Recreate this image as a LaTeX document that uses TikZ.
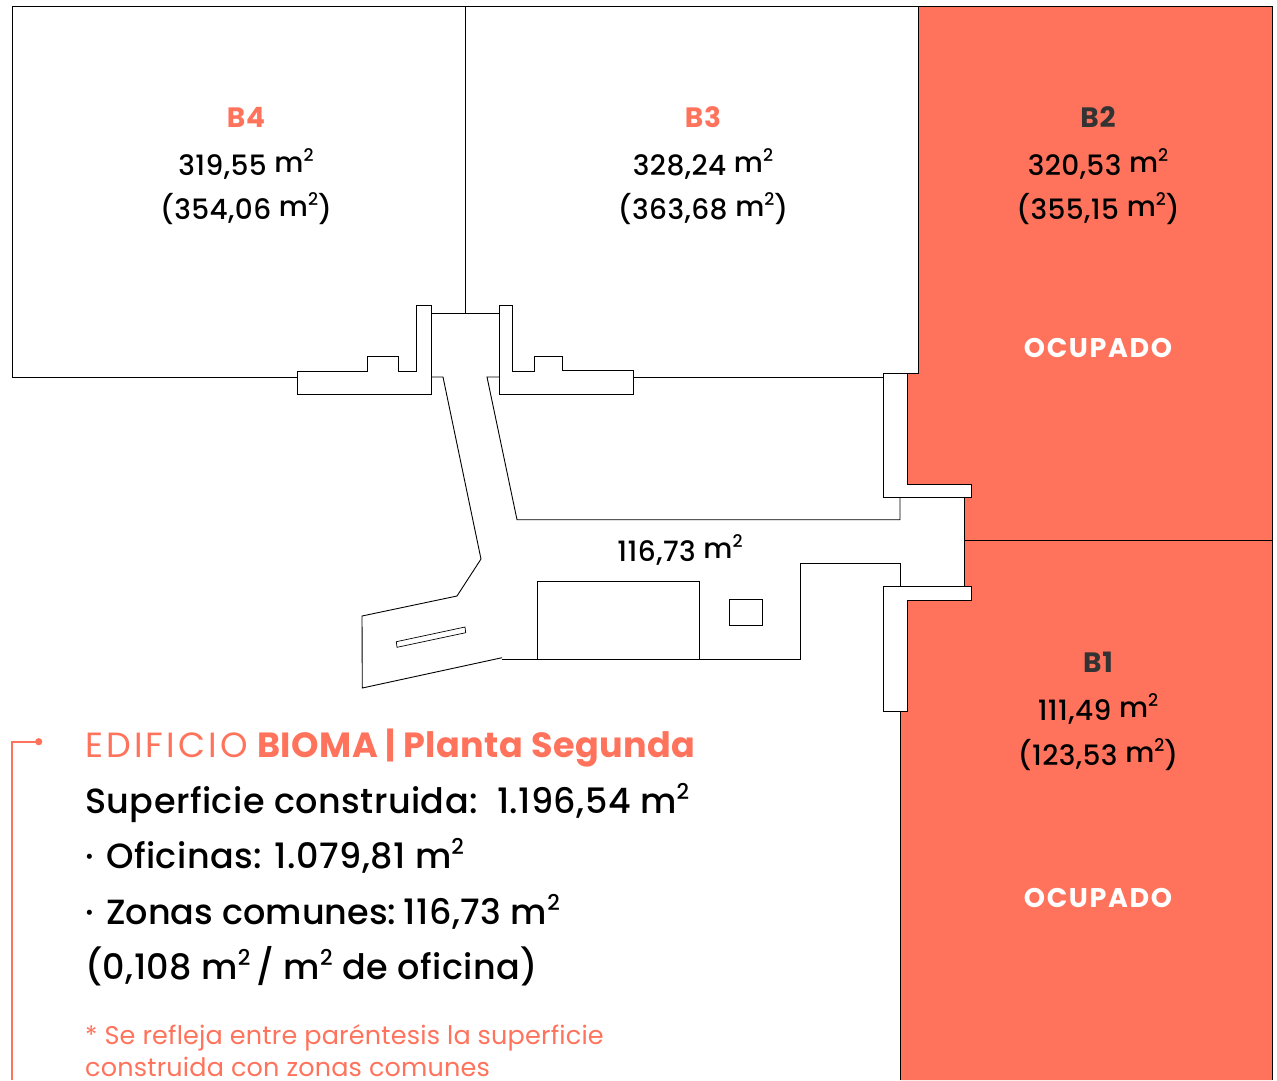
\documentclass[tikz,border=0pt]{standalone}
\usepackage{fontspec}
\setmainfont{Poppins}
\newfontfamily\medfont{Poppins Medium}
\usetikzlibrary{positioning}
\definecolor{coral}{HTML}{FF735C}
\definecolor{darkname}{HTML}{333333}
\newcommand{\sqtwo}{\raisebox{0.4em}{\scalebox{0.62}{2}}}
\newcommand{\sqm}{\raisebox{2.5pt}{m\sqtwo}}
\tikzset{
    wall/.style={black, line width=0.9pt, line join=miter},
    areatext/.style={anchor=base, font=\medfont\addfontfeature{LetterSpace=1.5}\fontsize{28}{30}\selectfont, inner sep=0pt},
    unitname/.style={anchor=base, font=\addfontfeature{LetterSpace=3}\bfseries\fontsize{28}{30}\selectfont, inner sep=0pt},
    freetext/.style={anchor=base, text=white, font=\addfontfeature{LetterSpace=6}\bfseries\fontsize{27}{30}\selectfont, inner sep=0pt},
    infotext/.style={anchor=base west, font=\medfont\addfontfeature{LetterSpace=1.3}\fontsize{35}{40}\selectfont, inner sep=0pt},
    notetext/.style={anchor=base west, text=coral, font=\addfontfeature{LetterSpace=0.7}\fontsize{25.5}{30}\selectfont, inner sep=0pt}
}
\begin{document}
\begin{tikzpicture}[x=1pt,y=-1pt]
    \useasboundingbox (0,0) rectangle (1277,1080);

    % Occupied units
    \fill[coral] (918.5,6) -- (1272,6) -- (1272,1080) -- (900,1080) -- (900,711) -- (907.7,711)
        -- (907.7,600.7) -- (971,600.7) -- (971,586.5) -- (964.5,586.5) -- (964.5,497.7) -- (971,497.7)
        -- (971,484) -- (907.7,484) -- (907.7,373.3) -- (918.5,373.3) -- cycle;

    % Outer walls
    \draw[wall] (297,377) -- (12,377) -- (12,6) -- (1272,6) -- (1272,1080);
    \draw[wall] (465,6) -- (465,313);
    \draw[wall] (918.5,6) -- (918.5,373.3);
    \draw[wall] (633.3,377) -- (883,377);
    \draw[wall] (964.5,540) -- (1272,540);
    \draw[wall] (964.5,497.7) -- (964.5,586.5);
    \draw[wall] (900,711) -- (900,1080);

    % Left bracket
    \draw[wall] (431,394.7) -- (297,394.7) -- (297,371) -- (367.7,371) -- (367.7,356.7) -- (398,356.7)
        -- (398,371) -- (416.7,371) -- (416.7,305.7) -- (431,305.7) -- cycle;

    % Right bracket
    \draw[wall] (499.3,394.3) -- (633.3,394.3) -- (633.3,370) -- (562.7,370) -- (562.7,356.7) -- (534.7,356.7)
        -- (534.7,371) -- (512.3,371) -- (512.3,305.7) -- (499.3,305.7) -- cycle;
    \draw[wall] (431,313) -- (499.3,313);

    % Upper stair block
    \draw[wall] (918.5,373.3) -- (883,373.3) -- (883,497.7) -- (971,497.7) -- (971,484)
        -- (907.7,484) -- (907.7,373.3);

    % Lower stair block
    \draw[wall] (971,586.5) -- (883,586.5) -- (883,711) -- (907.7,711) -- (907.7,600.7) -- (971,600.7) -- cycle;

    % Corridor
    \draw[wall] (499.3,377) -- (487,377) -- (517,519.7) -- (900,519.7) -- (900,497.7);
    \draw[wall] (900,586.5) -- (900,563.5) -- (800,563.5) -- (800,659) -- (502,659);
    \draw[wall] (502,657.7) -- (362.3,688) -- (362,616) -- (457,596) -- (481,559) -- (443,377) -- (431,377);

    % Core
    \draw[wall] (537.7,581) rectangle (699.5,659);
    \draw[wall] (729.5,599.5) rectangle (762,625);
    \draw[wall, line width=0.7pt] (396.3,641.7) -- (465,627) -- (465.7,632.7) -- (397,647.3) -- cycle;

    % Units
    \node[unitname, text=coral] (nameB4) at (246,127) {B4};
    \node[areatext] (areaB4) at (246,175) {319,55 \sqm};
    \node[areatext] (grossB4) at (246,219) {(354,06 \sqm)};

    \node[unitname, text=coral] (nameB3) at (703,127) {B3};
    \node[areatext] (areaB3) at (703,175) {328,24 \sqm};
    \node[areatext] (grossB3) at (703,219) {(363,68 \sqm)};

    \node[unitname, text=darkname] (nameB2) at (1098,127) {B2};
    \node[areatext] (areaB2) at (1098,175) {320,53 \sqm};
    \node[areatext] (grossB2) at (1098,219) {(355,15 \sqm)};
    \node[freetext] (freeB2) at (1098,357) {OCUPADO};

    \node[unitname, text=darkname] (nameB1) at (1098,672) {B1};
    \node[areatext] (areaB1) at (1098,720) {111,49 \sqm};
    \node[areatext] (grossB1) at (1098,765) {(123,53 \sqm)};
    \node[freetext] (freeB1) at (1098,907) {OCUPADO};

    \node[areatext] (areaCommon) at (680,561) {116,73 \sqm};

    % Summary
    \draw[coral, line width=1.7pt] (38.7,741.7) -- (12,741.7) -- (12,1080);
    \fill[coral] (38.7,741.7) circle (3.6);
    \node[infotext, text=coral, font=\fontsize{35}{40}\selectfont] (title) at (85,757)
        {{\addfontfeature{LetterSpace=9}EDIFICIO} {\addfontfeature{LetterSpace=1.2}\bfseries BIOMA | Planta Segunda}};
    \node[infotext] (built) at (85,813) {Superficie construida:\ \ 1.196,54 m\sqtwo};
    \node[infotext] (offices) at (85,868) {·\kern3pt\ Oficinas: 1.079,81 m\sqtwo};
    \node[infotext] (common) at (85,924) {·\kern3pt\ {\addfontfeature{LetterSpace=0}Zonas comunes:}\kern-2pt\ 116,73 m\sqtwo};
    \node[infotext] (ratio) at (85,979) {(0,108 m\sqtwo\,/ m\sqtwo\ de oficina)};
    \node[notetext] (noteA) at (85,1044) {* Se refleja entre paréntesis la superficie};
    \node[notetext] (noteB) at (85,1076) {construida con zonas comunes};
\end{tikzpicture}
\end{document}
